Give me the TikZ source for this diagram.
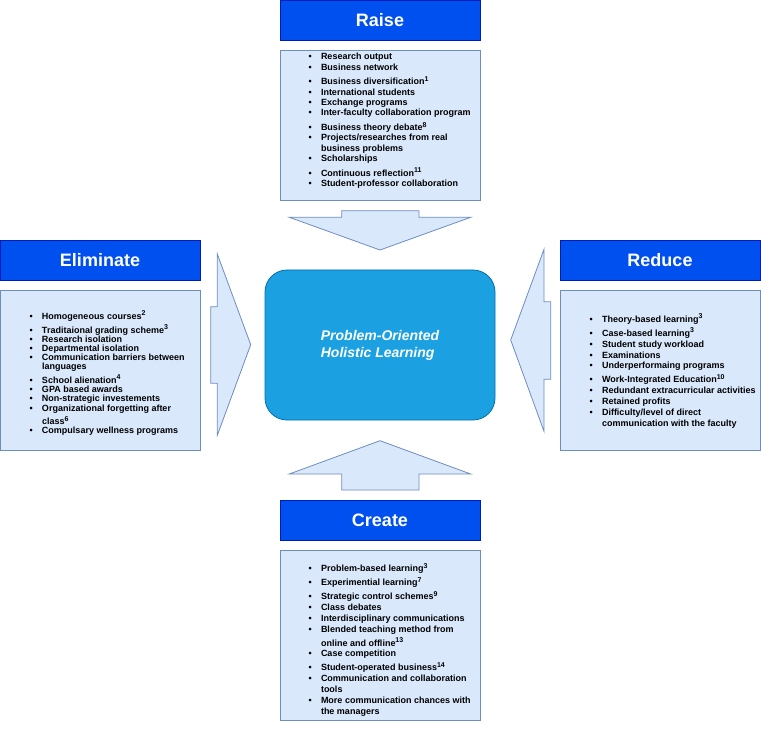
\documentclass[tikz,border=0pt]{standalone}
\usepackage{fontspec}
\setmainfont{Liberation Sans}
\hyphenpenalty=10000
\definecolor{hdrfill}{HTML}{0050EF}
\definecolor{hdrline}{HTML}{001DBC}
\definecolor{lstfill}{HTML}{DAE8FC}
\definecolor{lstline}{HTML}{6C8EBF}
\definecolor{ctrfill}{HTML}{1BA1E2}
\definecolor{ctrline}{HTML}{006EAF}
\newcommand\fnote[1]{\smash{\raisebox{3.6pt}{\fontsize{7}{7}\selectfont #1}}}
\newcommand\blt{\textbullet}
\tikzset{
  hdr/.style={draw=hdrline, fill=hdrfill, line width=0.8pt, minimum width=200pt, minimum height=40pt, inner sep=0pt, text=white, font=\fontsize{18}{20}\selectfont\bfseries},
  lstbox/.style={draw=lstline, fill=lstfill, line width=0.8pt},
  lsttext/.style={anchor=north west, inner sep=0pt, outer sep=0pt},
  blockarrow/.style={draw=lstline, fill=lstfill, line width=0.8pt, line join=miter},
  ctr/.style={draw=ctrline, fill=ctrfill, line width=0.8pt, rounded corners=22pt, minimum width=230pt, minimum height=150pt, inner sep=0pt},
}
\begin{document}
\begin{tikzpicture}[x=1pt,y=-1pt]
\useasboundingbox (0,0) rectangle (761,730);

% headers
\node[hdr] (raise) at (380,20) {Raise};
\node[hdr] (elim) at (100,260) {Eliminate};
\node[hdr] (reduce) at (660,260) {Reduce};
\node[hdr] (create) at (380,520) {Create};

% list boxes
\draw[lstbox] (280,50) rectangle (480,200);
\draw[lstbox] (0,290) rectangle (200,450);
\draw[lstbox] (560,290) rectangle (760,450);
\draw[lstbox] (280,550) rectangle (480,720);

% list texts
\node[lsttext] (raiselist) at (308.65,52.6) {\fontsize{9}{10.3}\selectfont\bfseries
\begin{tabular}{@{}l@{\hspace{9.2pt}}l@{}}
\blt & Research output\\
\blt & Business network\\[4.5pt]
\blt & Business diversification\fnote{1}\\
\blt & International students\\
\blt & Exchange programs\\
\blt & Inter-faculty collaboration program\\[4.5pt]
\blt & Business theory debate\fnote{8}\\
\blt & Projects/researches from real\\
     & business problems\\
\blt & Scholarships\\[4.5pt]
\blt & Continuous reflection\fnote{11}\\
\blt & Student-professor collaboration
\end{tabular}};

\node[lsttext] (elimlist) at (29.65,313.2) {\fontsize{9}{9}\selectfont\bfseries
\begin{tabular}{@{}l@{\hspace{9.2pt}}l@{}}
\blt & Homogeneous courses\fnote{2}\\[4.3pt]
\blt & Traditaional grading scheme\fnote{3}\\
\blt & Research isolation\\
\blt & Departmental isolation\\
\blt & Communication barriers between\\
     & languages\\[4.3pt]
\blt & School alienation\fnote{4}\\
\blt & GPA based awards\\
\blt & Non-strategic investements\\
\blt & Organizational forgetting after\\[4.3pt]
     & class\fnote{6}\\
\blt & Compulsary wellness programs
\end{tabular}};

\node[lsttext] (reducelist) at (589.65,314.9) {\fontsize{9}{10.8}\selectfont\bfseries
\begin{tabular}{@{}l@{\hspace{9.2pt}}l@{}}
\blt & Theory-based learning\fnote{3}\\[3.2pt]
\blt & Case-based learning\fnote{3}\\
\blt & Student study workload\\
\blt & Examinations\\
\blt & Underperformaing programs\\[3.2pt]
\blt & Work-Integrated Education\fnote{10}\\
\blt & Redundant extracurricular activities\\
\blt & Retained profits\\
\blt & Difficulty/level of direct\\
     & communication with the faculty
\end{tabular}};

\node[lsttext] (createlist) at (308.65,564.2) {\fontsize{9}{10.8}\selectfont\bfseries
\begin{tabular}{@{}l@{\hspace{9.2pt}}l@{}}
\blt & Problem-based learning\fnote{3}\\[3.2pt]
\blt & Experimential learning\fnote{7}\\[3.2pt]
\blt & Strategic control schemes\fnote{9}\\
\blt & Class debates\\
\blt & Interdisciplinary communications\\
\blt & Blended teaching method from\\[3.2pt]
     & online and offline\fnote{13}\\
\blt & Case competition\\[3.2pt]
\blt & Student-operated business\fnote{14}\\
\blt & Communication and collaboration\\
     & tools\\
\blt & More communication chances with\\
     & the managers
\end{tabular}};

% centre
\node[ctr] (centre) at (380,345) {};
\node[align=left, inner sep=0pt, text=white, font=\fontsize{14}{17}\selectfont\bfseries\itshape] (centretext) at (centre.center) {Problem-Oriented\\Holistic Learning};

% block arrows
\draw[blockarrow] (341.7,210.7) -- (419,210.7) -- (419,217.3) -- (470.7,217.3) -- (380,250) -- (289.3,217.3) -- (341.7,217.3) -- cycle;
\draw[blockarrow] (380,440.7) -- (470.7,474) -- (419,474) -- (419,490) -- (341.7,490) -- (341.7,474) -- (289.3,474) -- cycle;
\draw[blockarrow] (210.7,306.7) -- (217.3,306.7) -- (217.3,254) -- (250.7,344.7) -- (217.3,435.3) -- (217.3,383.3) -- (210.7,383.3) -- cycle;
\draw[blockarrow] (510.7,340) -- (544,249.3) -- (544,301.7) -- (550.7,301.7) -- (550.7,379.3) -- (544,379.3) -- (544,431.3) -- cycle;
\end{tikzpicture}
\end{document}
